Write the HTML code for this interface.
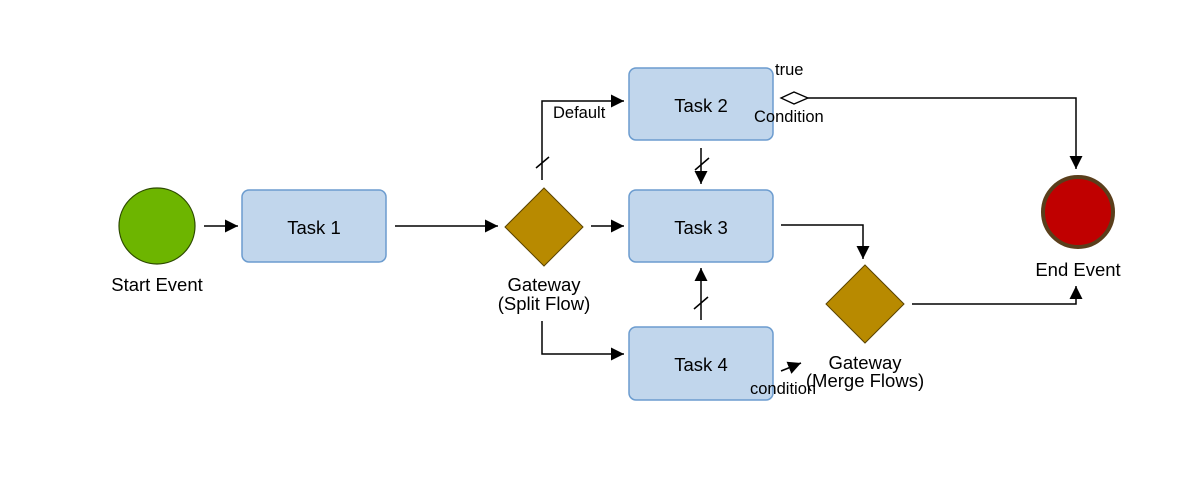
<!DOCTYPE html>
<html><head><style>body{margin:0;background:#fff}svg text{font-family:"Liberation Sans",sans-serif;fill:#000}</style></head><body>
<svg width="1199" height="480" viewBox="0 0 1199 480">
<defs><marker id="a" markerWidth="14" markerHeight="14" refX="13" refY="6.5" orient="auto" markerUnits="userSpaceOnUse"><path d="M0,0 L13,6.5 L0,13z" fill="#000"/></marker></defs>
<g stroke="#000" stroke-width="1.5" fill="none">
<path d="M204,226 H238" marker-end="url(#a)"/>
<path d="M395,226 H498" marker-end="url(#a)"/>
<path d="M591,226 H624" marker-end="url(#a)"/>
<path d="M542,180 V101 H624" marker-end="url(#a)"/>
<path d="M542,321 V354 H624" marker-end="url(#a)"/>
<path d="M701,148 V184" marker-end="url(#a)"/>
<path d="M701,320 V268" marker-end="url(#a)"/>
<path d="M781,225 H863 V259" marker-end="url(#a)"/>
<path d="M912,304 H1076 V286" marker-end="url(#a)"/>
<path d="M808,98 H1076 V169" marker-end="url(#a)"/>
<path d="M781,371 L801,363" marker-end="url(#a)"/>
<path d="M536,168 L549,157"/><path d="M695,170 L709,158"/><path d="M694,309 L708,297"/>
</g>
<path d="M781,98 L794,92 L808,98 L794,104z" fill="#fff" stroke="#000" stroke-width="1.3"/>
<circle cx="157" cy="226" r="38" fill="#6db500" stroke="#2d4a00" stroke-width="1.2"/>
<circle cx="1078" cy="212" r="35" fill="#c00000" stroke="#5a3e1b" stroke-width="4"/>
<g fill="#c1d6ec" stroke="#6c9ccf" stroke-width="1.5">
<rect x="242" y="190" width="144" height="72" rx="7"/>
<rect x="629" y="68" width="144" height="72" rx="7"/>
<rect x="629" y="190" width="144" height="72" rx="7"/>
<rect x="629" y="327" width="144" height="73" rx="7"/>
</g>
<path d="M544,188 L583,227 L544,266 L505,227z" fill="#b88a00" stroke="#5a4300" stroke-width="1"/>
<path d="M865,265 L904,304 L865,343 L826,304z" fill="#b88a00" stroke="#5a4300" stroke-width="1"/>
<g font-size="18.5" text-anchor="middle">
<text x="314" y="234">Task 1</text><text x="701" y="112">Task 2</text>
<text x="701" y="234">Task 3</text><text x="701" y="371">Task 4</text>
<text x="157" y="291">Start Event</text>
<text x="544" y="291">Gateway</text><text x="544" y="310">(Split Flow)</text>
<text x="865" y="369">Gateway</text><text x="865" y="387">(Merge Flows)</text>
<text x="1078" y="276">End Event</text>
</g>
<g font-size="16.5">
<text x="553" y="118">Default</text>
<text x="775" y="75">true</text>
<text x="754" y="122">Condition</text>
<text x="750" y="394">condition</text>
</g>
</svg>
</body></html>
